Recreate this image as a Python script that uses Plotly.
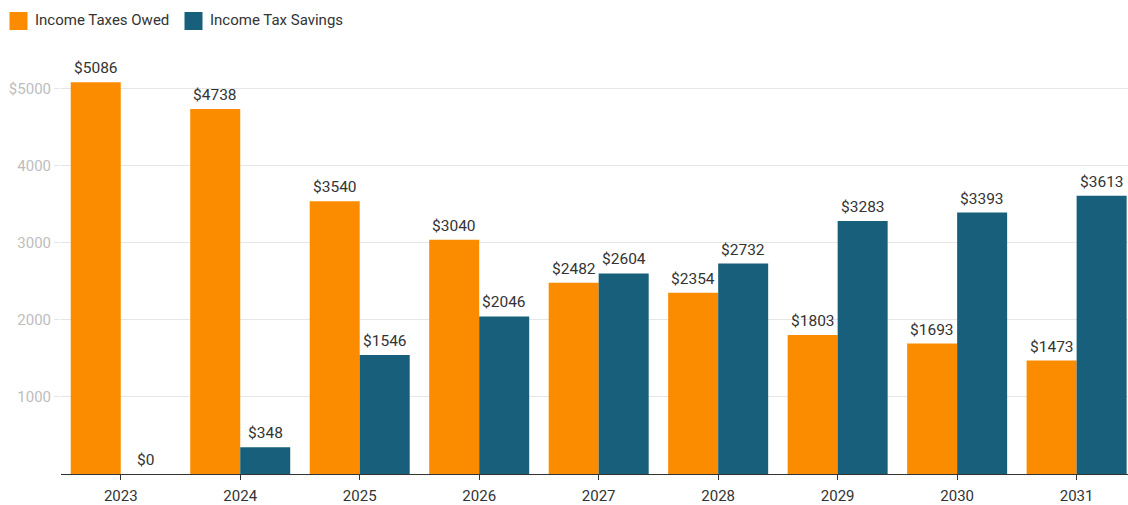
import plotly.graph_objects as go

years = ['2023', '2024', '2025', '2026', '2027', '2028', '2029', '2030', '2031']
taxes_owed = [5086, 4738, 3540, 3040, 2482, 2354, 1803, 1693, 1473]
tax_savings = [0, 348, 1546, 2046, 2604, 2732, 3283, 3393, 3613]
series_names = ['Income Taxes Owed', 'Income Tax Savings']
y_tickvals = [1000, 2000, 3000, 4000, 5000]
y_ticktext = ['1000', '2000', '3000', '4000', '$5000']

orange = '#FB8C00'
teal = '#175F7A'
text_color = '#333333'

fig = go.Figure()

series = [(series_names[0], taxes_owed, orange, -25),
          (series_names[1], tax_savings, teal, 25)]

for name, values, color, shift in series:
    fig.add_trace(go.Bar(x=years, y=values,
                         name=name,
                         marker_color=color,
                         marker_line_width=0,
                         showlegend=False))
    # value labels above each bar (x given as category index)
    for i, v in enumerate(values):
        fig.add_annotation(x=i, y=v, xref='x', yref='y',
                           text='$' + str(v), showarrow=False,
                           xanchor='center', yanchor='bottom',
                           xshift=shift, yshift=3,
                           font=dict(size=15.5, color=text_color))

fig.update_layout(width=1128, height=505,
                  barmode='group',
                  bargap=0.163,
                  bargroupgap=0,
                  paper_bgcolor='white',
                  plot_bgcolor='white',
                  font=dict(family='Roboto', size=15, color=text_color),
                  margin=dict(l=61, r=0, t=58, b=31))

# legend drawn by hand: square swatches + labels above the plot
plot_w = 1067.0
plot_h = 416.0
legend_items = [(series_names[0], orange, 9.5, 32.5),
                (series_names[1], teal, 184.5, 207.5)]
for name, color, sq_left, txt_left in legend_items:
    fig.add_shape(type='rect', xref='paper', yref='paper',
                  x0=(sq_left - 61) / plot_w, x1=(sq_left + 18 - 61) / plot_w,
                  y0=(474 - 30) / plot_h, y1=(474 - 12) / plot_h,
                  fillcolor=color, line_width=0)
    fig.add_annotation(text=name, xref='paper', yref='paper',
                       x=(txt_left - 61) / plot_w, y=(474 - 20.5) / plot_h,
                       xanchor='left', yanchor='middle', showarrow=False,
                       font=dict(size=15, color=text_color))

# axes
fig.update_yaxes(range=[0, 5400],
                 tickmode='array', tickvals=y_tickvals, ticktext=y_ticktext,
                 tickfont=dict(size=15, color='#BDBDBD'),
                 showgrid=True, gridcolor='#E6E6E6', gridwidth=1,
                 ticks='outside', ticklen=6, tickcolor='#E6E6E6',
                 zeroline=False, showline=False)

fig.update_xaxes(type='category', range=[-0.5, 8.43],
                 tickfont=dict(size=15, color=text_color),
                 ticklabelstandoff=3,
                 showline=True, linecolor='#333333', linewidth=1,
                 ticks='outside', ticklen=5, tickcolor='#333333',
                 showgrid=False)

# drop the default 8px body margin so the figure fills the window
fig.write_html("out.html", config={'displayModeBar': False},
               post_script="document.body.style.margin='0';")
